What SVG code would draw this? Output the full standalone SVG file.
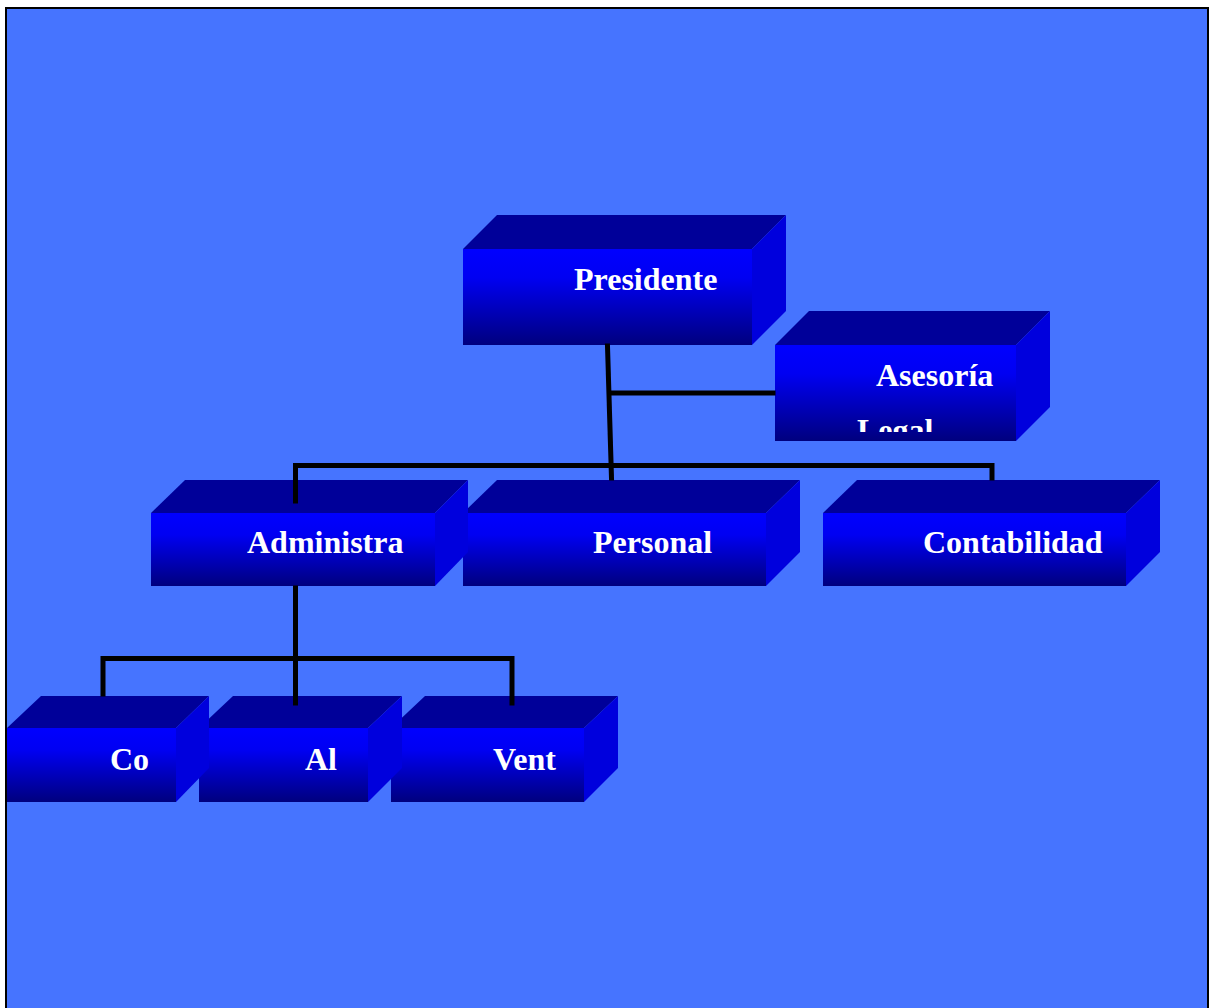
<svg xmlns="http://www.w3.org/2000/svg" width="1210" height="1008" viewBox="0 0 1210 1008">
<defs>
<linearGradient id="fg" x1="0" y1="0" x2="0" y2="1">
<stop offset="0" stop-color="#0000FF"/>
<stop offset="0.3" stop-color="#0000F2"/>
<stop offset="1" stop-color="#00007E"/>
</linearGradient>
<clipPath id="asClip"><rect x="775" y="345" width="241" height="87"/></clipPath>
</defs>
<style>
.top{fill:#000099}
.side{fill:#0000DD}
.front{fill:url(#fg)}
.lbl{font-family:"Liberation Serif","Times New Roman",serif;font-weight:bold;font-size:32px;fill:#FFFFFF}
.con{stroke:#000000;stroke-width:5;fill:none;stroke-linecap:square}
</style>
<rect x="0" y="0" width="1210" height="1008" fill="#FFFFFF"/>
<rect x="6" y="8" width="1202" height="1010" fill="#4674FF" stroke="#000000" stroke-width="2"/>

<g id="presidente">
<polygon class="top" points="463,249 497,215 786,215 752,249"/>
<polygon class="side" points="752,249 786,215 786,311 752,345"/>
<rect class="front" x="463" y="249" width="289" height="96"/>
<text class="lbl" x="574" y="290">Presidente</text>
</g>

<g id="asesoria">
<polygon class="top" points="775,345 809,311 1050,311 1016,345"/>
<polygon class="side" points="1016,345 1050,311 1050,407 1016,441"/>
<rect class="front" x="775" y="345" width="241" height="96"/>
<text class="lbl" x="876" y="386">Asesoría</text>
<text class="lbl" x="857" y="441" clip-path="url(#asClip)">Legal</text>
</g>

<g id="contabilidad">
<polygon class="top" points="823,513 857,480 1160,480 1126,513"/>
<polygon class="side" points="1126,513 1160,480 1160,552 1126,586"/>
<rect class="front" x="823" y="513" width="303" height="73"/>
<text class="lbl" x="923" y="553">Contabilidad</text>
</g>

<g id="personal">
<polygon class="top" points="463,513 497,480 800,480 766,513"/>
<polygon class="side" points="766,513 800,480 800,552 766,586"/>
<rect class="front" x="463" y="513" width="303" height="73"/>
<text class="lbl" x="593" y="553">Personal</text>
</g>

<g id="administra">
<polygon class="top" points="151,513 185,480 468,480 435,513"/>
<polygon class="side" points="435,513 468,480 468,552 435,586"/>
<rect class="front" x="151" y="513" width="284" height="73"/>
<text class="lbl" x="247" y="553">Administra</text>
</g>

<g id="vent">
<polygon class="top" points="391,728 425,696 618,696 584,728"/>
<polygon class="side" points="584,728 618,696 618,768 584,802"/>
<rect class="front" x="391" y="728" width="193" height="74"/>
<text class="lbl" x="493" y="770">Vent</text>
</g>

<g id="al">
<polygon class="top" points="199,728 233,696 402,696 368,728"/>
<polygon class="side" points="368,728 402,696 402,768 368,802"/>
<rect class="front" x="199" y="728" width="169" height="74"/>
<text class="lbl" x="305" y="770">Al</text>
</g>

<g id="co">
<polygon class="top" points="7,728 41,696 209,696 176,728"/>
<polygon class="side" points="176,728 209,696 209,768 176,802"/>
<rect class="front" x="7" y="728" width="169" height="74"/>
<text class="lbl" x="110" y="770">Co</text>
</g>

<g id="connectors">
<line class="con" x1="607.5" y1="346" x2="611.5" y2="478" stroke-linecap="butt" stroke-width="6"/>
<line class="con" x1="611" y1="393" x2="773" y2="393"/>
<polyline class="con" points="295.5,501 295.5,465.5 992,465.5 992,478"/>
<line class="con" x1="295.5" y1="588" x2="295.5" y2="703"/>
<polyline class="con" points="103,694 103,658.5 512,658.5 512,703"/>
</g>
</svg>
